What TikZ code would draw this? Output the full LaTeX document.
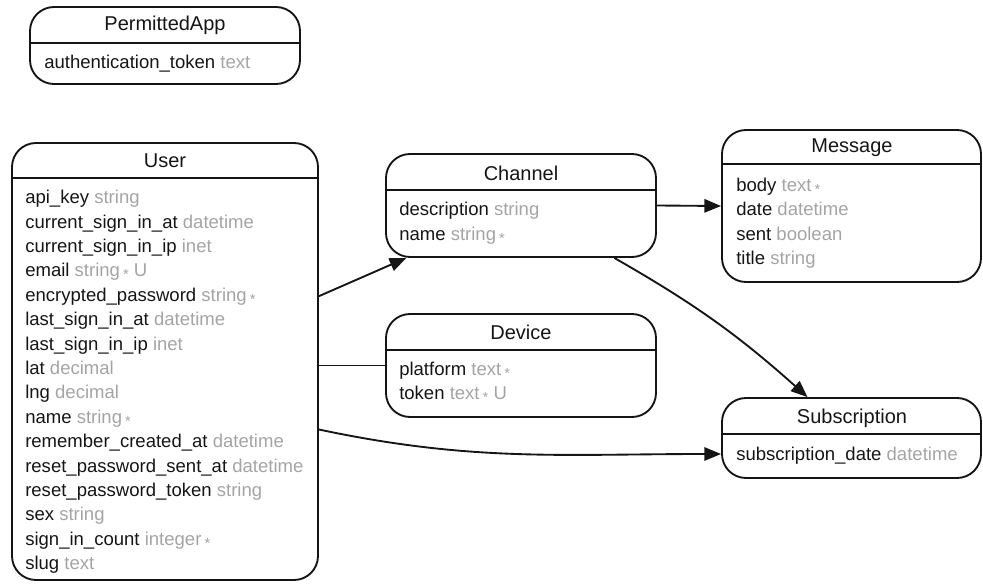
\documentclass[tikz,border=0pt]{standalone}
\usepackage{fontspec}
\setmainfont{Liberation Sans}
\usetikzlibrary{arrows.meta,fit}
\definecolor{typegray}{HTML}{A4A4A4}
\definecolor{ink}{HTML}{151515}
\newcommand{\nm}[1]{\textcolor{ink}{#1}}
\newcommand{\ty}[1]{\textcolor{typegray}{#1}}
\newcommand{\reqmark}{\textcolor{typegray}{\,\raisebox{-2.2pt}{\fontsize{11}{11}\selectfont *}}}
\begin{document}
\begin{tikzpicture}[x=0.75pt,y=-0.75pt,
  ebox/.style={draw=ink, line width=1.4pt, rounded corners=18pt, inner sep=0pt},
  ttl/.style={inner sep=0pt, font=\fontsize{15}{18}\selectfont, text=ink},
  fld/.style={anchor=west, inner sep=0pt, font=\fontsize{13.9}{16}\selectfont, text height=10pt, text depth=3pt},
  sep/.style={draw=ink, line width=1.4pt},
  lnk/.style={draw=ink, line width=1.4pt},
  arr/.style={lnk, -{Triangle[length=12.5pt,width=10pt]}}]
\useasboundingbox (0,0) rectangle (983,585);

% PermittedApp
\node[ebox, fit={(30,7) (300,84)}] (perm) {};
\node[ttl] (permT) at (165,25) {PermittedApp};
\draw[sep] (30,43) -- (300,43);
\node[fld] (p1) at (44,64) {\nm{authentication\_token} \ty{text}};

% User
\node[ebox, fit={(12,143) (318,580)}] (user) {};
\node[ttl] (userT) at (165,161) {User};
\draw[sep] (12,178) -- (318,178);
\foreach \t [count=\i] in {
  {\nm{api\_key} \ty{string}},
  {\nm{current\_sign\_in\_at} \ty{datetime}},
  {\nm{current\_sign\_in\_ip} \ty{inet}},
  {\nm{email} \ty{string}\reqmark\ \ty{U}},
  {\nm{encrypted\_password} \ty{string}\reqmark},
  {\nm{last\_sign\_in\_at} \ty{datetime}},
  {\nm{last\_sign\_in\_ip} \ty{inet}},
  {\nm{lat} \ty{decimal}},
  {\nm{lng} \ty{decimal}},
  {\nm{name} \ty{string}\reqmark},
  {\nm{remember\_created\_at} \ty{datetime}},
  {\nm{reset\_password\_sent\_at} \ty{datetime}},
  {\nm{reset\_password\_token} \ty{string}},
  {\nm{sex} \ty{string}},
  {\nm{sign\_in\_count} \ty{integer}\reqmark},
  {\nm{slug} \ty{text}}}
  \node[fld] (u\i) at (25,{199+24.4*(\i-1)}) {\t};

% Channel
\node[ebox, fit={(386,154) (656,257)}] (chan) {};
\node[ttl] (chanT) at (521,173) {Channel};
\draw[sep] (386,190) -- (656,190);
\node[fld] (c1) at (399,211) {\nm{description} \ty{string}};
\node[fld] (c2) at (399,236) {\nm{name} \ty{string}\reqmark};

% Message
\node[ebox, fit={(722,130) (981,282)}] (msg) {};
\node[ttl] (msgT) at (852,148) {Message};
\draw[sep] (722,164) -- (981,164);
\node[fld] (m1) at (736,187) {\nm{body} \ty{text}\reqmark};
\node[fld] (m2) at (736,211) {\nm{date} \ty{datetime}};
\node[fld] (m3) at (736,236) {\nm{sent} \ty{boolean}};
\node[fld] (m4) at (736,260) {\nm{title} \ty{string}};

% Device
\node[ebox, fit={(386,314) (656,417)}] (dev) {};
\node[ttl] (devT) at (521,332) {Device};
\draw[sep] (386,350) -- (656,350);
\node[fld] (d1) at (399,371) {\nm{platform} \ty{text}\reqmark};
\node[fld] (d2) at (399,395) {\nm{token} \ty{text}\reqmark\ \ty{U}};

% Subscription
\node[ebox, fit={(722,398) (981,478)}] (sub) {};
\node[ttl] (subT) at (852,418) {Subscription};
\draw[sep] (722,434) -- (981,434);
\node[fld] (s1) at (736,456) {\nm{subscription\_date} \ty{datetime}};

% Connectors
\draw[arr] ([yshift=49pt]user.east) -- ([xshift=-86pt]chan.south);
\draw[arr] (chan.east) -- (msg.west);
\draw[arr] ([xshift=70pt]chan.south) to[bend left=6] ([xshift=-33pt]sub.north);
\draw[lnk] (user.east |- dev.west) -- (dev.west);
\draw[arr] ([yshift=-51pt]user.east) to[out=-12,in=180] ([yshift=-12pt]sub.west);
\end{tikzpicture}
\end{document}
